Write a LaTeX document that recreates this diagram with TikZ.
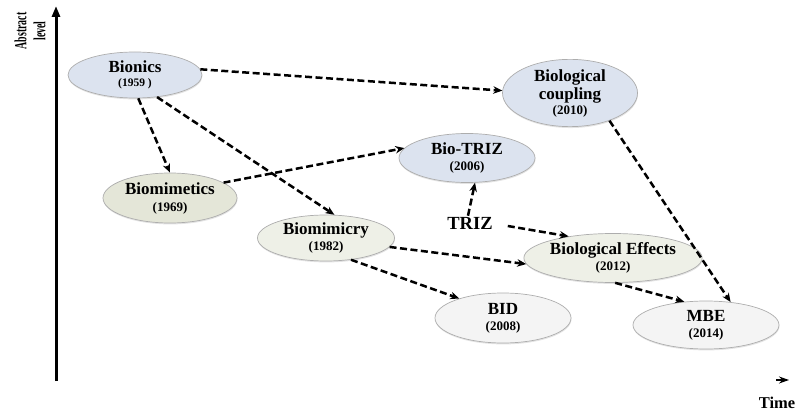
\documentclass[tikz,border=0pt]{standalone}
\usepackage{fontspec}
\setmainfont{Liberation Serif}
\usetikzlibrary{shapes.geometric,arrows.meta,shadows}
\definecolor{cblue}{HTML}{DCE3EF}
\definecolor{colive}{HTML}{E4E6D8}
\definecolor{cpale}{HTML}{EEF0E7}
\definecolor{cwhite}{HTML}{F4F4F4}
\newcommand\yr[1]{{\fontsize{13}{15}\selectfont #1}}
\begin{document}
\begin{tikzpicture}[x=1pt,y=-1pt,
  ell/.style={ellipse,draw=black!32,line width=0.7pt,inner sep=0pt,align=center,
    font=\bfseries\fontsize{17}{19}\selectfont,
    drop shadow={shadow xshift=0.4pt,shadow yshift=-1.4pt,opacity=0.22}},
  conn/.style={line width=2.5pt,dash pattern=on 7pt off 3.5pt,
    -{Stealth[length=9pt,width=7.5pt]}},
  lbl/.style={font=\bfseries\fontsize{17}{19}\selectfont,inner sep=1pt}]
\useasboundingbox (0,0) rectangle (796,414);
% axes
\coordinate (origin) at (56,381);
\coordinate (ytop) at (56,6);
\draw[line width=3pt,-{Triangle[length=11pt,width=8pt]}] (origin) -- (ytop);
\node[rotate=90,align=center,font=\bfseries\fontsize{17}{19}\selectfont,inner sep=0pt] (ylab) at (30,31)
  {\scalebox{0.58}[1]{Abstract}\\\scalebox{0.58}[1]{level}};
\coordinate (tA) at (776,380);
\coordinate (tB) at (789,380);
\draw[line width=1.2pt,-{Stealth[length=10pt,width=7pt]}] (tA) -- (tB);
\node[font=\bfseries\fontsize{16.5}{16}\selectfont,inner sep=0pt] (time) at (777,403) {Time};
% nodes
\node[ell,fill=cblue,minimum width=134,minimum height=46] (bionics) at (135,75)
  {Bionics\\[-5pt]{\fontsize{11.5}{13}\selectfont (1959 )}};
\node[ell,fill=cblue,minimum width=135,minimum height=63] (coupling) at (570,93)
  {Biological\\[-1pt]coupling\\[-4pt]\yr{(2010)}};
\node[ell,fill=colive,minimum width=134,minimum height=50] (biomimetics) at (170,198)
  {Biomimetics\\[-2pt]\yr{(1969)}};
\node[ell,fill=cblue,minimum width=136,minimum height=49] (biotriz) at (467,158)
  {Bio-TRIZ\\[-3pt]\yr{(2006)}};
\node[lbl,font=\bfseries\fontsize{18.5}{20}\selectfont] (triz) at (470,223) {TRIZ};
\node[ell,fill=cpale,minimum width=137,minimum height=46] (biomimicry) at (326,238)
  {Biomimicry\\[-3pt]\yr{(1982)}};
\node[ell,fill=cpale,minimum width=145,minimum height=49] (effects) at (613,258)
  {Biological Effects\\[-3pt]\yr{(2012)}};
\node[ell,fill=cwhite,minimum width=136,minimum height=50] (bid) at (503,318)
  {BID\\[-3pt]\yr{(2008)}};
\node[ell,fill=cwhite,minimum width=146,minimum height=48] (mbe) at (706,325)
  {MBE\\[-3pt]\yr{(2014)}};
% connectors
\draw[conn] (bionics.5) -- (coupling.178);
\draw[conn] (bionics.-82) -- (biomimetics.north);
\draw[conn] (bionics.-45) -- (biomimicry.70);
\draw[conn] (biomimetics.16) -- (biotriz.171);
\draw[conn] ([xshift=-2pt]triz.north) -- (biotriz.-72);
\draw[conn] ([xshift=14pt,yshift=-3pt]triz.east) -- (effects.154);
\draw[conn] (biomimicry.-8) -- (effects.184);
\draw[conn] (biomimicry.-41) -- (bid.156);
\draw[conn] (coupling.-35) -- (mbe.43);
\draw[conn] (effects.-85) -- (mbe.133);
\end{tikzpicture}
\end{document}
